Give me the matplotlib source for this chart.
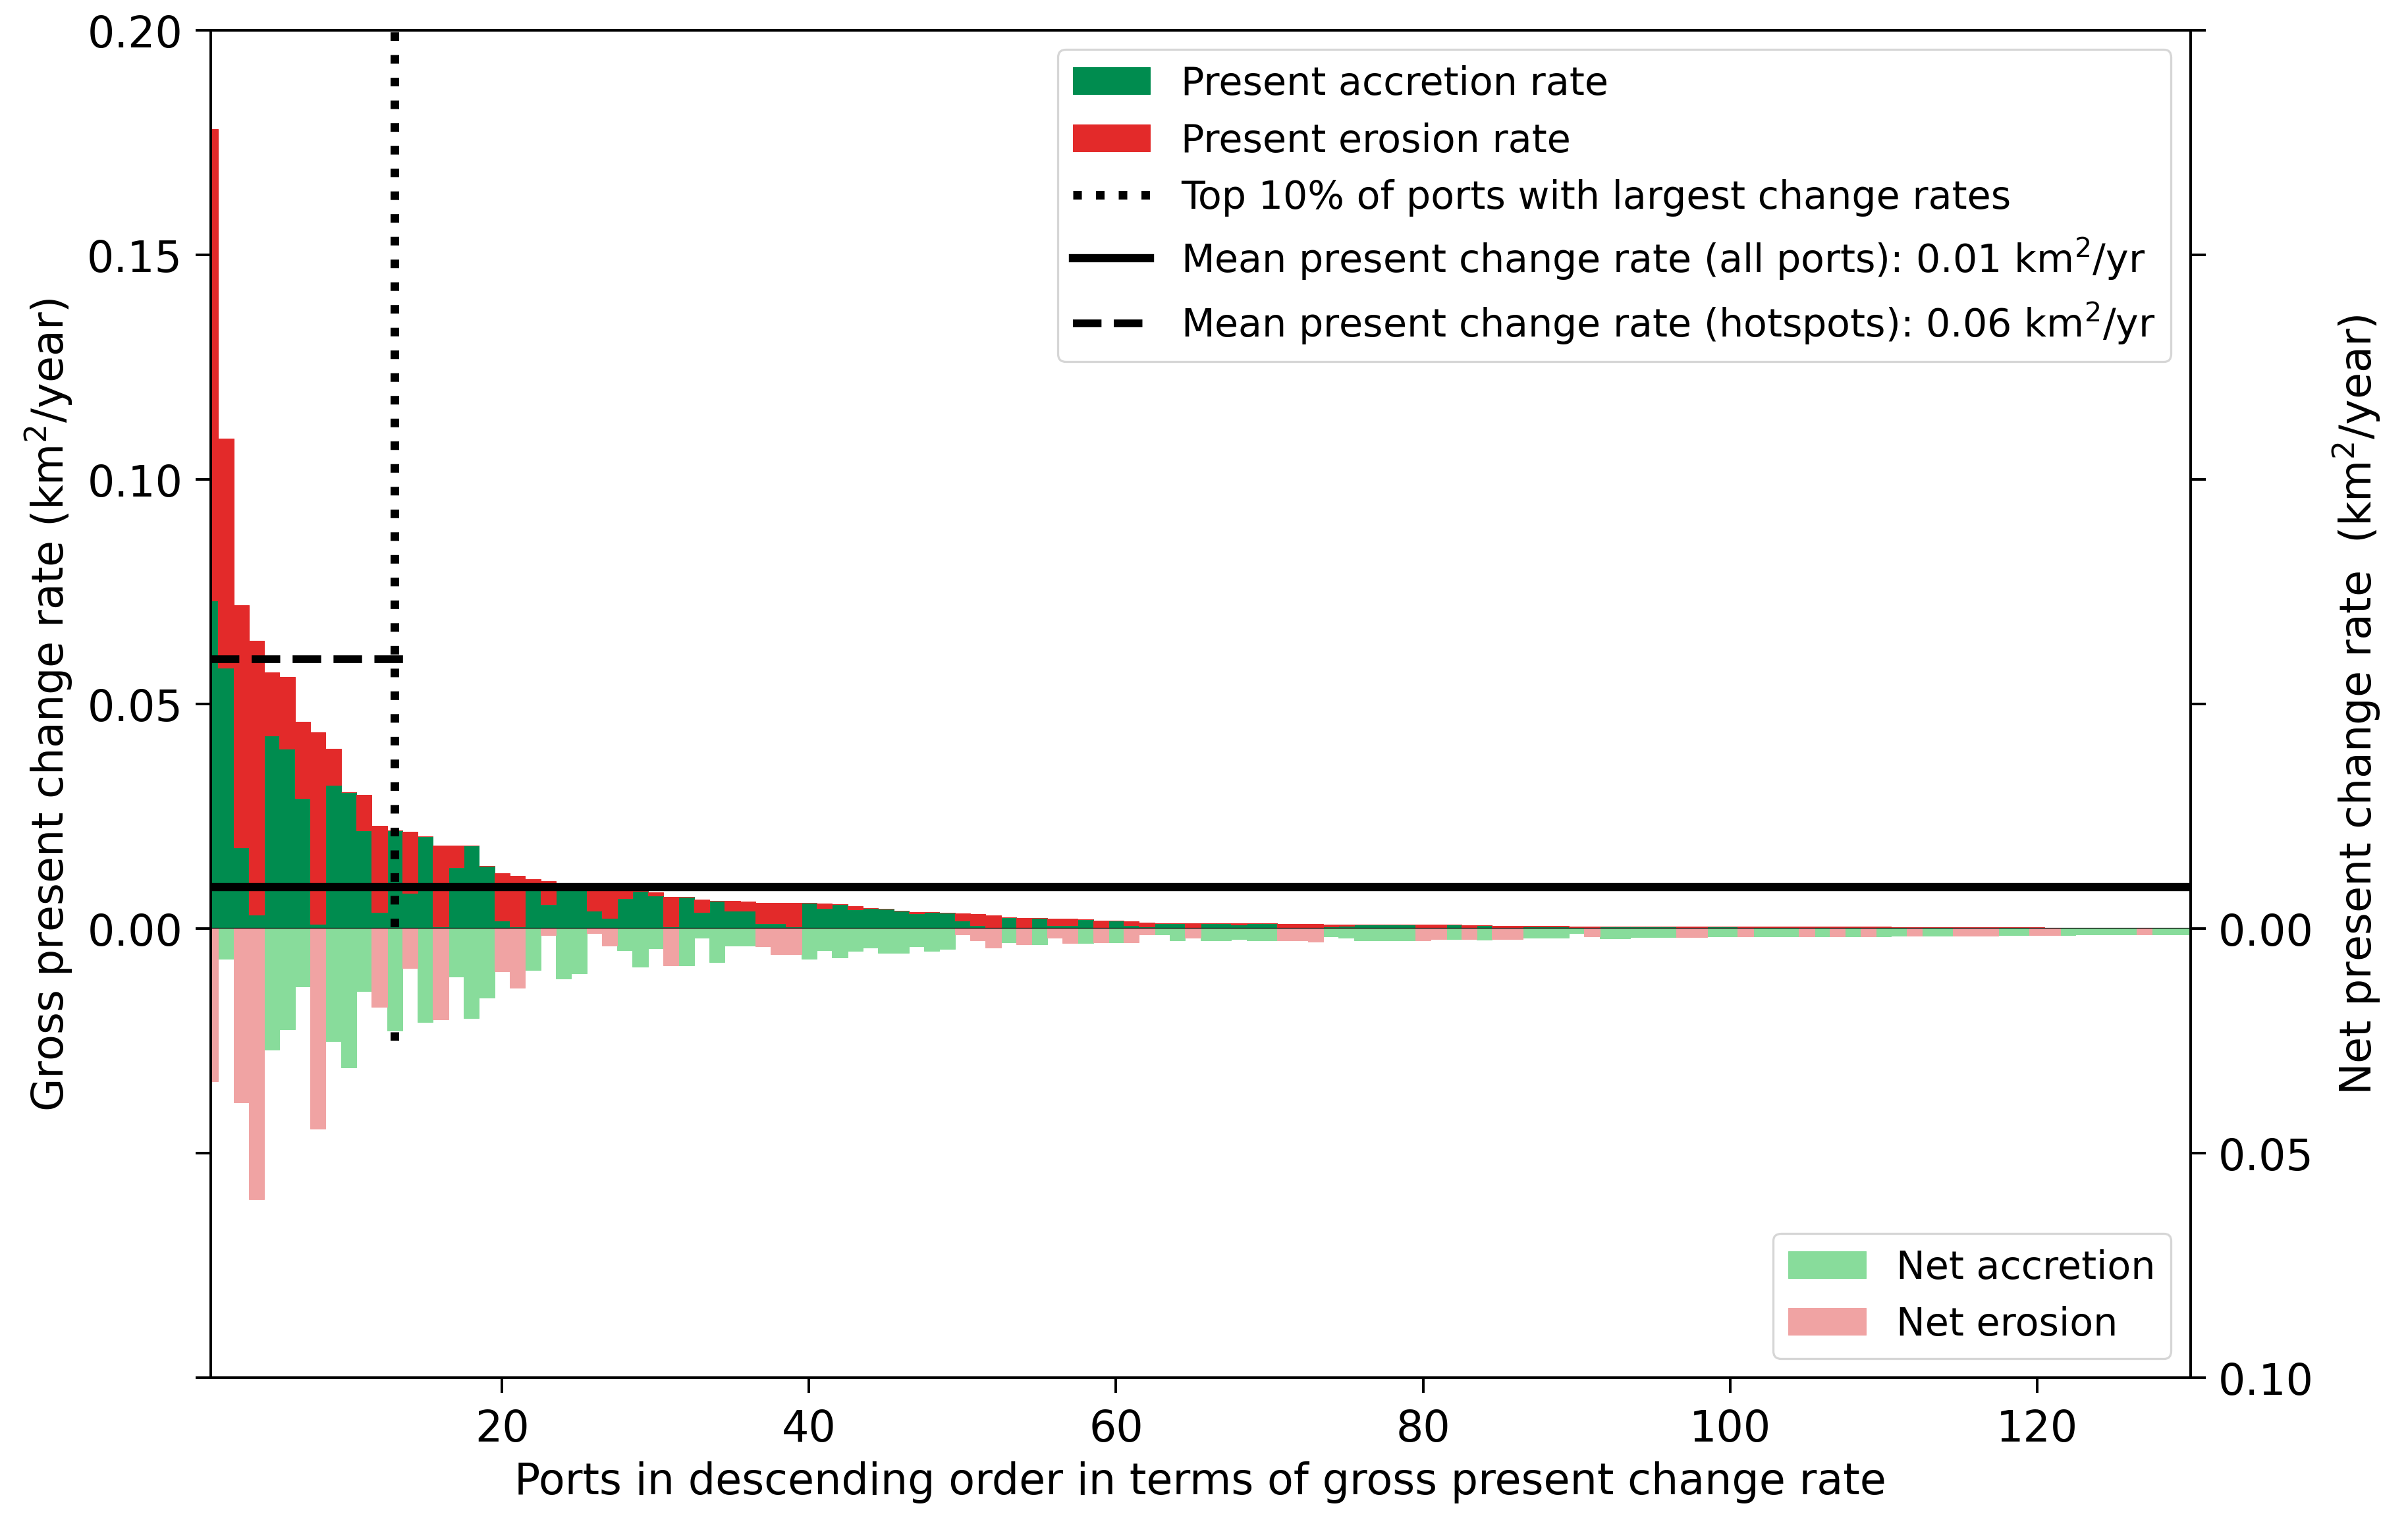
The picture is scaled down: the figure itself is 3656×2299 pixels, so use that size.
import numpy as np
import matplotlib
matplotlib.use("Agg")
import matplotlib.pyplot as plt

# gross present accretion / erosion per port (km2/yr), ports sorted by gross rate
accretion = [
    0.073, 0.058, 0.018, 0.003, 0.043, 0.040, 0.029, 0.001, 0.032, 0.0303,
    0.0218, 0.0036, 0.0218, 0.0079, 0.0205, 0.0005, 0.0136, 0.0185, 0.0139, 0.0017,
    0.0005, 0.0101, 0.0054, 0.0098, 0.0092, 0.0039, 0.0024, 0.0068, 0.0084, 0.0073,
    0.0004, 0.0070, 0.0036, 0.0062, 0.0040, 0.0040, 0.0011, 0.0011, 0.0004, 0.0057,
    0.0045, 0.0054, 0.0043, 0.0045, 0.0044, 0.0040, 0.0033, 0.0036, 0.0035, 0.0018,
    0.0007, 0.0, 0.0025, 0.0, 0.0024, 0.0007, 0.0007, 0.0021, 0.0, 0.0017,
    0.0007, 0.0005, 0.0012, 0.0012, 0.0, 0.0012, 0.0012, 0.0009, 0.0012, 0.0011,
    0.0, 0.0, 0.0002, 0.0005, 0.0006, 0.0009, 0.0008, 0.0008, 0.0008, 0.0,
    0.0001, 0.0008, 0.0, 0.0007, 0.0002, 0.0002, 0.0005, 0.0005, 0.0005, 0.0003,
    0.0001, 0.0004, 0.0004, 0.0004, 0.0004, 0.0004, 0.0001, 0.0001, 0.0004, 0.0004,
    0.0001, 0.0003, 0.0003, 0.0003, 0.0001, 0.0003, 0.0001, 0.0003, 0.0001, 0.0003,
    0.0002, 0.0001, 0.0002, 0.0002, 0.0001, 0.0001, 0.0001, 0.0002, 0.0002, 0.0001,
    0.0001, 0.0002, 0.0002, 0.0002, 0.0002, 0.0002, 0.0, 0.0002, 0.0002, 0.0002,
]
erosion = [
    0.105, 0.051, 0.054, 0.061, 0.014, 0.016, 0.017, 0.0427, 0.008, 0.0,
    0.0079, 0.0192, 0.0, 0.0136, 0.0, 0.018, 0.0049, 0.0, 0.0, 0.0106,
    0.0112, 0.0009, 0.0051, 0.0, 0.0, 0.0049, 0.0062, 0.0017, 0.0, 0.0007,
    0.0066, 0.0, 0.0029, 0.0, 0.0022, 0.0020, 0.0046, 0.0046, 0.0053, 0.0,
    0.0011, 0.0, 0.0007, 0.0, 0.0, 0.0, 0.0003, 0.0, 0.0, 0.0016,
    0.0025, 0.0029, 0.0, 0.0024, 0.0, 0.0015, 0.0015, 0.0, 0.0018, 0.0,
    0.0009, 0.0008, 0.0, 0.0, 0.0012, 0.0, 0.0, 0.0003, 0.0, 0.0,
    0.0010, 0.0010, 0.0008, 0.0004, 0.0003, 0.0, 0.0, 0.0, 0.0, 0.0008,
    0.0007, 0.0, 0.0007, 0.0, 0.0004, 0.0004, 0.0001, 0.0001, 0.0001, 0.0002,
    0.0004, 0.0001, 0.0001, 0.0001, 0.0001, 0.0001, 0.0004, 0.0004, 0.0001, 0.0001,
    0.0003, 0.0001, 0.0001, 0.0001, 0.0003, 0.0001, 0.0003, 0.0001, 0.0003, 0.0001,
    0.0001, 0.0002, 0.0001, 0.0001, 0.0002, 0.0002, 0.0002, 0.0001, 0.0001, 0.0002,
    0.0001, 0.0, 0.0, 0.0, 0.0, 0.0, 0.0002, 0.0, 0.0, 0.0,
]
# net present change rate per port (+ accretion, - erosion)
net = [
    -0.034, 0.0068, -0.0387, -0.0602, 0.027, 0.0224, 0.0129, -0.0446, 0.0251, 0.031,
    0.0139, -0.0174, 0.0227, -0.0088, 0.0209, -0.0202, 0.0107, 0.0199, 0.0154, -0.0095,
    -0.0132, 0.0093, -0.0015, 0.0112, 0.0100, -0.0010, -0.0038, 0.0049, 0.0085, 0.0044,
    -0.0082, 0.0082, 0.0021, 0.0075, 0.0038, 0.0038, -0.0040, -0.0057, -0.0057, 0.0067,
    0.0048, 0.0065, 0.0050, 0.0043, 0.0055, 0.0055, 0.0040, 0.0050, 0.0045, -0.0014,
    -0.0026, -0.0042, 0.0031, -0.0036, 0.0036, -0.0021, -0.0033, 0.0033, -0.0031, 0.0031,
    -0.0031, -0.0014, 0.0014, 0.0026, -0.0021, 0.0026, 0.0026, 0.0023, 0.0026, 0.0026,
    -0.0026, -0.0026, -0.0030, 0.0018, 0.0020, 0.0027, 0.0027, 0.0027, 0.0027, -0.0027,
    -0.0024, 0.0024, -0.0024, 0.0025, -0.0023, -0.0023, 0.0021, 0.0021, 0.0021, 0.0010,
    -0.0018, 0.0022, 0.0022, 0.0019, 0.0019, 0.0019, -0.0019, -0.0019, 0.0018, 0.0018,
    -0.0018, 0.0018, 0.0018, 0.0018, -0.0018, 0.0017, -0.0017, 0.0017, -0.0017, 0.0017,
    0.0016, -0.0016, 0.0016, 0.0016, -0.0016, -0.0016, -0.0016, 0.0015, 0.0015, -0.0015,
    -0.0015, 0.0015, 0.0014, 0.0014, 0.0014, 0.0014, -0.0014, 0.0013, 0.0013, 0.0013,
]
mean_all = 0.0092      # mean present change rate, all ports
mean_hot = 0.06        # mean present change rate, hotspots
top10_port = 13

ports = np.arange(1, len(accretion) + 1)
accretion = np.array(accretion)
erosion = np.array(erosion)
net = np.array(net)

green = '#008c4f'
red = '#e32a2a'
lgreen = '#88dc9b'
lpink = '#f0a3a3'

plt.rcParams['font.family'] = ['DejaVu Sans']
fs = 20
fs_leg = 18

fig = plt.figure(figsize=(15.6, 9.812), dpi=234.4)
ax = fig.add_axes([0.0874, 0.090, 0.8221, 0.8897])

b1 = ax.bar(ports, accretion, width=1, color=green, edgecolor=green, linewidth=0.3,
            label='Present accretion rate')
b2 = ax.bar(ports, erosion, width=1, bottom=accretion, color=red, edgecolor=red,
            linewidth=0.3, label='Present erosion rate')
ax.axhline(0, color='k', lw=1)
l1, = ax.plot([top10_port, top10_port], [-0.025, 0.2], color='k', ls=':', lw=4,
              label='Top 10% of ports with largest change rates')
l2, = ax.plot([1, len(ports)], [mean_all, mean_all], color='k', ls='-', lw=3.8,
              label='Mean present change rate (all ports): 0.01 km$^2$/yr')
l3, = ax.plot([1, top10_port + 0.8], [mean_hot, mean_hot], color='k', ls='--', lw=3.6,
              label='Mean present change rate (hotspots): 0.06 km$^2$/yr')

ax.set_xlim(1, len(ports))
ax.set_ylim(-0.1, 0.2)
ax.set_yticks([-0.1, -0.05, 0, 0.05, 0.1, 0.15, 0.2])
ax.set_yticklabels(['', '', '0.00', '0.05', '0.10', '0.15', '0.20'])
ax.set_xticks([20, 40, 60, 80, 100, 120])
ax.tick_params(labelsize=fs, length=7, width=1.2, pad=6)
ax.tick_params(axis='x', pad=7)
ax.set_xlabel('Ports in descending order in terms of gross present change rate',
              fontsize=fs, labelpad=5)
ax.set_ylabel('Gross present change rate (km$^2$/year)', fontsize=fs, labelpad=6)

ax2 = ax.twinx()
pos = net > 0
b3 = ax2.bar(ports[pos], net[pos], width=1, color=lgreen, edgecolor=lgreen,
             linewidth=0.3, label='Net accretion')
b4 = ax2.bar(ports[~pos], -net[~pos], width=1, color=lpink, edgecolor=lpink,
             linewidth=0.3, label='Net erosion')
ax2.set_ylim(0.1, -0.2)
ax2.set_yticks([-0.2, -0.15, -0.1, -0.05, 0, 0.05, 0.1])
ax2.set_yticklabels(['', '', '', '', '0.00', '0.05', '0.10'])
ax2.tick_params(labelsize=fs, length=7, width=1.2, pad=6)
ax2.set_ylabel('Net present change rate  (km$^2$/year)', fontsize=fs, labelpad=8)
ax2.set_xlim(1, len(ports))

for a in (ax, ax2):
    for s in a.spines.values():
        s.set_linewidth(1.2)

leg1 = ax2.legend([b1, b2, l1, l2, l3], [h.get_label() for h in [b1, b2, l1, l2, l3]],
                  loc='upper right', fontsize=fs_leg)
ax2.add_artist(leg1)
ax2.legend([b3, b4], ['Net accretion', 'Net erosion'], loc='lower right',
           fontsize=fs_leg)

fig.savefig('out.png', dpi=234.4)
